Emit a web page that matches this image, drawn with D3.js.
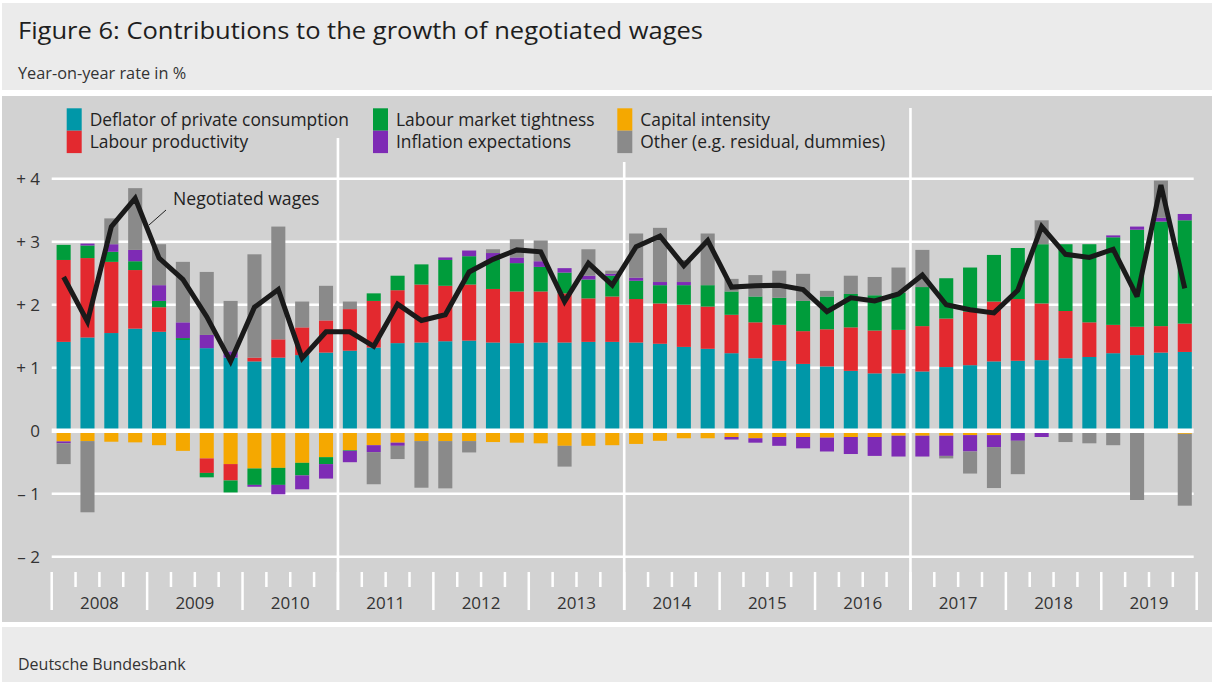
<!DOCTYPE html>
<html>
<head>
<meta charset="utf-8">
<script src="https://cdn.jsdelivr.net/npm/d3@7"></script>
<style>
  html, body { margin: 0; padding: 0; background: #ffffff; }
  svg { display: block; font-family: "Open Sans", "Noto Sans", sans-serif; }
</style>
</head>
<body>
<svg id="chart" width="1212" height="682"></svg>
<script>
// ---------------- data ----------------
const years = [2008, 2009, 2010, 2011, 2012, 2013, 2014, 2015, 2016, 2017, 2018, 2019];
const quarters = years.flatMap(y => [1, 2, 3, 4].map(q => y + " Q" + q));

const deflator = [1.41,1.48,1.55,1.62, 1.57,1.44,1.31,1.16, 1.10,1.16,1.20,1.24,
  1.27,1.32,1.39,1.40, 1.42,1.43,1.40,1.39, 1.40,1.40,1.41,1.41,
  1.40,1.38,1.33,1.30, 1.23,1.15,1.11,1.06, 1.02,0.95,0.91,0.91,
  0.94,1.01,1.04,1.10, 1.11,1.12,1.15,1.17, 1.23,1.20,1.24,1.25];
const productivity = [1.30,1.26,1.13,0.93, 0.39,0,-0.23,-0.26, 0.06,0.29,0.44,0.51,
  0.66,0.74,0.84,0.92, 0.88,0.89,0.85,0.82, 0.81,0.78,0.69,0.72,
  0.69,0.64,0.67,0.67, 0.61,0.57,0.57,0.52, 0.59,0.69,0.68,0.69,
  0.72,0.77,0.85,0.95, 0.98,0.90,0.75,0.55, 0.45,0.45,0.42,0.45];
const tightness = [0.24,0.20,0.16,0.14, 0.10,0.03,-0.07,-0.19, -0.26,-0.27,-0.20,-0.11,
  -0.01,0.12,0.23,0.32, 0.41,0.45,0.46,0.45, 0.39,0.33,0.30,0.33,
  0.29,0.29,0.31,0.34, 0.37,0.41,0.43,0.48, 0.52,0.53,0.56,0.59,
  0.62,0.64,0.70,0.74, 0.81,0.94,1.06,1.24, 1.39,1.54,1.66,1.64];
const inflationExp = [-0.03,0.03,0.12,0.18, 0.25,0.25,0.21,0.10, -0.03,-0.15,-0.22,-0.23,
  -0.18,-0.11,-0.05,0, 0.04,0.09,0.11,0.09, 0.09,0.07,0.06,0.03,
  0.05,0.05,0.05,0, -0.04,-0.07,-0.14,-0.18, -0.22,-0.27,-0.30,-0.33,
  -0.33,-0.32,-0.26,-0.19, -0.16,-0.10,-0.03,0, 0.03,0.05,0.06,0.10];
const capitalIntensity = [-0.17,-0.165,-0.175,-0.185, -0.23,-0.32,-0.44,-0.53, -0.60,-0.59,-0.51,-0.42,
  -0.31,-0.23,-0.19,-0.165, -0.165,-0.165,-0.18,-0.19, -0.20,-0.24,-0.24,-0.23,
  -0.21,-0.16,-0.12,-0.12, -0.10,-0.12,-0.10,-0.10, -0.11,-0.10,-0.10,-0.08,
  -0.08,-0.08,-0.07,-0.07, 0,0,0,0, 0,0,-0.03,-0.05];
const other = [-0.33,-1.13,0.41,0.98, 0.65,0.96,1.00,0.80, 1.64,1.79,0.41,0.55,
  0.12,-0.51,-0.21,-0.74, -0.75,-0.18,0.06,0.29, 0.33,-0.33,0.42,0.05,
  0.70,0.86,0.35,0.82, 0.20,0.34,0.43,0.43, 0.09,0.29,0.29,0.40,
  0.59,-0.04,-0.35,-0.65, -0.53,0.38,-0.15,-0.20, -0.23,-1.10,0.59,-1.14];
const negotiatedWages = [2.44,1.73,3.24,3.69, 2.74,2.40,1.81,1.10, 1.96,2.24,1.15,1.57,
  1.57,1.34,2.01,1.75, 1.84,2.52,2.72,2.87, 2.84,2.05,2.66,2.31,
  2.92,3.09,2.62,3.02, 2.28,2.30,2.31,2.24, 1.89,2.11,2.06,2.17,
  2.47,2.00,1.92,1.87, 2.23,3.24,2.80,2.75, 2.88,2.13,3.90,2.26];

const seriesNames = {
  deflator: "Deflator of private consumption",
  productivity: "Labour productivity",
  tightness: "Labour market tightness",
  inflationExp: "Inflation expectations",
  capitalIntensity: "Capital intensity",
  other: "Other (e.g. residual, dummies)"
};
const yTicks = [-2, -1, 0, 1, 2, 3, 4];

// ---------------- styles ----------------
const colors = {
  deflator: "#0097a8",
  productivity: "#e3292f",
  tightness: "#009c3b",
  inflationExp: "#7e2bb5",
  capitalIntensity: "#f5a800",
  other: "#8a8a8a"
};

const rows = quarters.map((q, i) => ({
  q, deflator: deflator[i], capitalIntensity: capitalIntensity[i], productivity: productivity[i],
  tightness: tightness[i], inflationExp: inflationExp[i], other: other[i]
}));
const stackKeys = ["deflator", "capitalIntensity", "productivity", "tightness", "inflationExp", "other"];
const stacked = d3.stack().keys(stackKeys).offset(d3.stackOffsetDiverging)(rows);

const svg = d3.select("#chart");
const W = 1212, H = 682;

// background bands
svg.append("rect").attr("x", 0).attr("y", 0).attr("width", W).attr("height", H).attr("fill", "#ffffff");
svg.append("rect").attr("x", 2).attr("y", 3).attr("width", W - 2).attr("height", 87).attr("fill", "#ebebeb");
svg.append("rect").attr("x", 2).attr("y", 96).attr("width", W - 2).attr("height", 526).attr("fill", "#d2d2d2");
svg.append("rect").attr("x", 2).attr("y", 627).attr("width", W - 2).attr("height", 55).attr("fill", "#ebebeb");

svg.append("text").attr("x", 18).attr("y", 39).attr("font-size", 24).attr("fill", "#1e1e1e")
  .attr("textLength", 685).attr("lengthAdjust", "spacingAndGlyphs")
  .text("Figure 6: Contributions to the growth of negotiated wages");
svg.append("text").attr("x", 18).attr("y", 79).attr("font-size", 16.3).attr("fill", "#333")
  .text("Year-on-year rate in %");
svg.append("text").attr("x", 18).attr("y", 670).attr("font-size", 16).attr("fill", "#333")
  .text("Deutsche Bundesbank");

// scales
const x0 = 51.7, x1 = 1196.7;
const xt = d3.scaleLinear().domain([0, quarters.length]).range([x0, x1]);
const x = d3.scaleBand().domain(quarters).range([x0, x1]).paddingInner(0.41).paddingOuter(0.205);
const y = d3.scaleLinear().domain([-2, 4]).range([556.7, 178.7]);

// gridlines
svg.append("g").selectAll("line").data(yTicks.filter(d => d !== 0)).join("line")
  .attr("x1", x0).attr("x2", x1 - 3).attr("y1", d => y(d)).attr("y2", d => y(d))
  .attr("stroke", "#ffffff").attr("stroke-width", 2.4);

// y labels
svg.append("g").selectAll("text").data(yTicks).join("text")
  .attr("x", 40).attr("y", d => y(d) + 6).attr("text-anchor", "end")
  .attr("font-size", 17).attr("fill", "#333")
  .text(d => d > 0 ? "+ " + d : d < 0 ? "\u2013 " + Math.abs(d) : "0");

// vertical separators (2011, 2014, 2017)
const sepTops = [{yr: 2011, top: 138}, {yr: 2014, top: 162}, {yr: 2017, top: 108}];
svg.append("g").selectAll("line").data(sepTops).join("line")
  .attr("x1", d => xt((d.yr - years[0]) * 4)).attr("x2", d => xt((d.yr - years[0]) * 4))
  .attr("y1", d => d.top).attr("y2", 610)
  .attr("stroke", "#ffffff").attr("stroke-width", 2.6);

// x ticks
const qTicks = d3.range(0, quarters.length + 1);
svg.append("g").selectAll("line").data(qTicks).join("line")
  .attr("x1", d => xt(d)).attr("x2", d => xt(d))
  .attr("y1", 572).attr("y2", d => d % 4 === 0 ? 610 : 587)
  .attr("stroke", "#ffffff").attr("stroke-width", 2.5);
svg.append("g").selectAll("text").data(years).join("text")
  .attr("x", (d, i) => xt(i * 4 + 2)).attr("y", 609).attr("text-anchor", "middle")
  .attr("font-size", 17).attr("fill", "#333").text(d => d);

// bars
const gBars = svg.append("g");
stacked.forEach(s => {
  gBars.append("g").attr("fill", colors[s.key]).selectAll("rect").data(s).join("rect")
    .attr("x", d => x(d.data.q)).attr("width", x.bandwidth())
    .attr("y", d => y(Math.max(d[0], d[1])))
    .attr("height", d => Math.abs(y(d[0]) - y(d[1])));
});

// zero line
svg.append("line").attr("x1", x0).attr("x2", x1 - 3).attr("y1", y(0)).attr("y2", y(0))
  .attr("stroke", "#ffffff").attr("stroke-width", 4.5);

// negotiated wages line
const line = d3.line().x((d, i) => x(quarters[i]) + x.bandwidth() / 2).y(d => y(d));
svg.append("path").datum(negotiatedWages).attr("d", line)
  .attr("fill", "none").attr("stroke", "#1a1a1a").attr("stroke-width", 5)
  .attr("stroke-linejoin", "miter").attr("stroke-miterlimit", 3);

svg.append("text").attr("x", 173).attr("y", 205).attr("font-size", 17.6).attr("fill", "#222")
  .text("Negotiated wages");
svg.append("line").attr("x1", 166).attr("y1", 210).attr("x2", 149).attr("y2", 225)
  .attr("stroke", "#222").attr("stroke-width", 1);

// legend
const legendItems = [
  {key: "deflator", col: 0, row: 0}, {key: "productivity", col: 0, row: 1},
  {key: "tightness", col: 1, row: 0}, {key: "inflationExp", col: 1, row: 1},
  {key: "capitalIntensity", col: 2, row: 0}, {key: "other", col: 2, row: 1}
];
const colX = [66.7, 373, 617.3];
const lg = svg.append("g").selectAll("g").data(legendItems).join("g")
  .attr("transform", d => `translate(${colX[d.col]},${108.3 + d.row * 22.4})`);
lg.append("rect").attr("width", 15).attr("height", 22.4).attr("fill", d => colors[d.key]);
lg.append("text").attr("x", 23).attr("y", 17.5).attr("font-size", 17.4).attr("fill", "#222")
  .text(d => seriesNames[d.key]);
</script>
</body>
</html>
